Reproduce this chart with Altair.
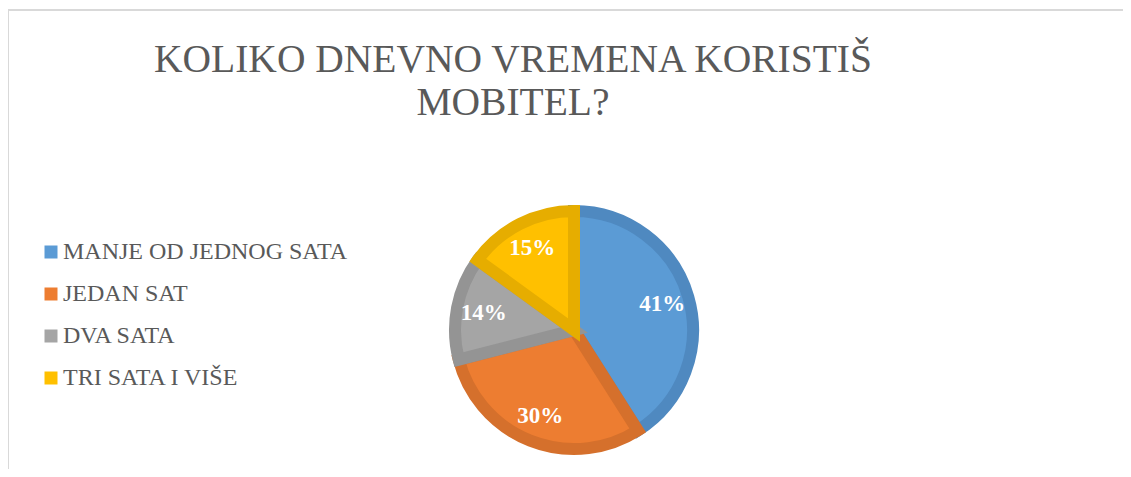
import altair as alt
import pandas as pd

categories = ["MANJE OD JEDNOG SATA", "JEDAN SAT", "DVA SATA", "TRI SATA I VIŠE"]
values = [41, 30, 14, 15]
fill_colors = ["#5B9BD5", "#ED7D31", "#A5A5A5", "#FFC000"]
stroke_colors = ["#4F89C0", "#D5702C", "#949494", "#E6AD00"]
title_lines = ["KOLIKO DNEVNO VREMENA KORISTIŠ", "MOBITEL?"]
title_rows = [0, 1]

df = pd.DataFrame({"cat": categories, "value": values, "idx": list(range(len(categories)))})

W, H = 1115, 461
CX, CY, R = 566, 322, 125

base = alt.Chart(df).encode(
    theta=alt.Theta("value:Q", stack=True),
    order=alt.Order("idx:Q"),
    x=alt.value(CX),
    y=alt.value(CY),
)

arcs = base.mark_arc(outerRadius=R - 6, strokeWidth=12, strokeJoin="miter").encode(
    fill=alt.Fill(
        "cat:N",
        scale=alt.Scale(domain=categories, range=fill_colors),
        sort=categories,
        legend=alt.Legend(
            title=None,
            orient="none",
            legendX=31,
            legendY=232,
            symbolType="square",
            symbolSize=169,
            symbolStrokeWidth=0,
            labelFont="Liberation Serif",
            labelFontSize=24,
            labelColor="#595959",
            labelOffset=0,
            labelLimit=0,
            rowPadding=18,
            padding=0,
        ),
    ),
    stroke=alt.Stroke(
        "cat:N",
        scale=alt.Scale(domain=categories, range=stroke_colors),
        legend=None,
    ),
)

labels = base.transform_calculate(pct="datum.value + '%'").mark_text(
    radius=92,
    font="Liberation Serif",
    fontSize=23,
    fontWeight="bold",
    color="white",
    align="center",
    baseline="middle",
).encode(text="pct:N")

title = alt.Chart(pd.DataFrame({"line": title_lines, "row": title_rows})).mark_text(
    font="Liberation Serif",
    fontSize=39.5,
    color="#595959",
    align="center",
    baseline="alphabetic",
).encode(
    text="line:N",
    x=alt.value(505),
    y=alt.Y("row:Q", scale=alt.Scale(domain=[0, 1], range=[64, 107]), axis=None),
)

top_rule = alt.Chart(df.head(1)).mark_rule(color="#D9D9D9", strokeWidth=2).encode(
    x=alt.value(0), x2=alt.value(W), y=alt.value(2)
)
left_rule = alt.Chart(df.head(1)).mark_rule(color="#D9D9D9", strokeWidth=2).encode(
    x=alt.value(0), y=alt.value(2), y2=alt.value(H)
)

chart = (
    alt.layer(top_rule, left_rule, arcs, labels, title)
    .resolve_scale(y="independent")
    .properties(width=W, height=H, autosize="none", padding=0)
    .configure_view(stroke=None)
)

chart.save("out.html", embed_options={"renderer": "svg", "actions": False})
